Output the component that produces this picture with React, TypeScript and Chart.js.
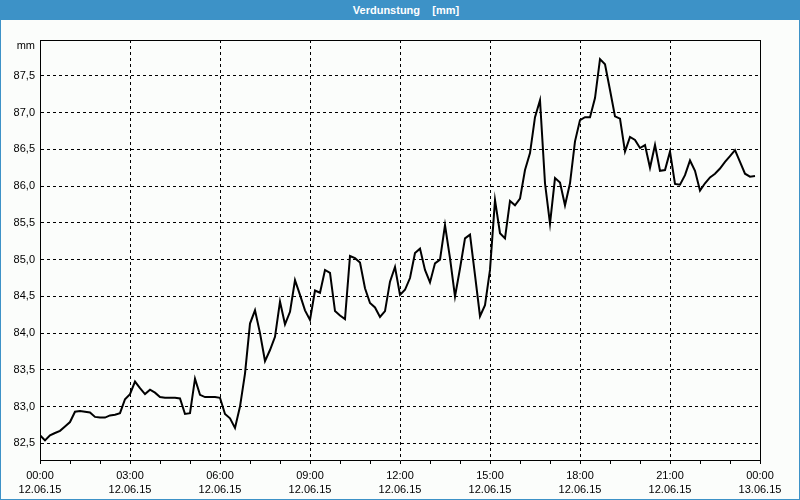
import React, { useEffect, useRef } from "react";
import { Chart, registerables } from "chart.js";

Chart.register(...registerables);

// Verdunstung values (mm), one sample every 10 minutes from 12.06.15 00:00
const values: number[] = [
  82.61, 82.54, 82.61, 82.64, 82.67, 82.73, 82.79, 82.93, 82.94, 82.93,
  82.92, 82.86, 82.85, 82.85, 82.88, 82.89, 82.91, 83.10, 83.17, 83.34,
  83.25, 83.17, 83.23, 83.19, 83.13, 83.12, 83.12, 83.12, 83.11, 82.90,
  82.91, 83.38, 83.16, 83.13, 83.13, 83.13, 83.12, 82.90, 82.84, 82.71,
  83.00, 83.45, 84.13, 84.31, 84.00, 83.62, 83.77, 83.95, 84.43, 84.12,
  84.29, 84.72, 84.52, 84.31, 84.18, 84.58, 84.55, 84.86, 84.82, 84.30,
  84.24, 84.19, 85.05, 85.02, 84.96, 84.61, 84.41, 84.35, 84.22, 84.30,
  84.70, 84.90, 84.52, 84.59, 84.75, 85.09, 85.15, 84.86, 84.69, 84.95,
  85.00, 85.47, 85.02, 84.50, 84.88, 85.29, 85.34, 84.79, 84.23, 84.38,
  84.86, 85.81, 85.36, 85.29, 85.80, 85.74, 85.83, 86.22, 86.45, 86.94,
  87.17, 86.04, 85.49, 86.11, 86.05, 85.74, 86.04, 86.61, 86.90, 86.94,
  86.94, 87.20, 87.73, 87.66, 87.31, 86.95, 86.92, 86.47, 86.67, 86.63,
  86.52, 86.56, 86.25, 86.56, 86.21, 86.22, 86.47, 86.03, 86.02, 86.15,
  86.35, 86.21, 85.94, 86.04, 86.12, 86.17, 86.24, 86.33, 86.41, 86.49,
  86.33, 86.17, 86.13, 86.14,
];
const sampleStepMinutes = 10;

const yTicks: number[] = [82.5, 83.0, 83.5, 84.0, 84.5, 85.0, 85.5, 86.0, 86.5, 87.0, 87.5];
const yMin = 82.273;
const yMax = 87.99;
const yUnit = "mm";

const xTickMinutes: number[] = [
  0, 60, 120, 180, 240, 300, 360, 420, 480, 540, 600, 660, 720,
  780, 840, 900, 960, 1020, 1080, 1140, 1200, 1260, 1320, 1380, 1440,
];
const xMajorStep = 180;
const xLabelTimes: string[] = ["00:00", "03:00", "06:00", "09:00", "12:00", "15:00", "18:00", "21:00", "00:00"];
const xLabelDates: string[] = ["12.06.15", "12.06.15", "12.06.15", "12.06.15", "12.06.15", "12.06.15", "12.06.15", "12.06.15", "13.06.15"];

const title = "Verdunstung    [mm]";

export default function App() {
  const canvasRef = useRef<HTMLCanvasElement | null>(null);

  useEffect(() => {
    const canvas = canvasRef.current;
    if (!canvas) return;
    Chart.defaults.font.family = "'Liberation Sans', Arial, sans-serif";
    Chart.defaults.font.size = 11;
    Chart.defaults.color = "#000";

    const frame = {
      id: "frame",
      afterDraw(chart: any) {
        const { ctx, chartArea } = chart;
        ctx.save();
        ctx.strokeStyle = "#000";
        ctx.lineWidth = 1;
        ctx.beginPath();
        ctx.moveTo(Math.round(chartArea.left) + 0.5, Math.round(chartArea.top) + 0.5);
        ctx.lineTo(Math.round(chartArea.right) + 0.5, Math.round(chartArea.top) + 0.5);
        ctx.lineTo(Math.round(chartArea.right) + 0.5, Math.round(chartArea.bottom) + 0.5);
        ctx.stroke();
        ctx.font = "11px 'Liberation Sans', Arial, sans-serif";
        ctx.fillStyle = "#000";
        ctx.textAlign = "right";
        ctx.textBaseline = "middle";
        ctx.fillText(yUnit, chartArea.left - 5, chartArea.top + 6);
        ctx.restore();
      },
    };

    const chart = new Chart(canvas, {
      type: "line",
      data: {
        datasets: [
          {
            data: values.map((v, i) => ({ x: i * sampleStepMinutes, y: v })),
            borderColor: "#000",
            borderWidth: 2,
            pointRadius: 0,
            tension: 0,
            fill: false,
          },
        ],
      },
      options: {
        responsive: false,
        animation: false,
        events: [],
        layout: { padding: { top: 40, right: 40, bottom: 0, left: 0 } },
        plugins: { legend: { display: false }, title: { display: false }, tooltip: { enabled: false } },
        scales: {
          x: {
            type: "linear",
            min: 0,
            max: 1440,
            afterBuildTicks: (scale: any) => {
              scale.ticks = xTickMinutes.map((v) => ({ value: v }));
            },
            afterFit: (scale: any) => {
              scale.height = 40;
            },
            grid: {
              color: (ctx: any) =>
                ctx.tick && ctx.tick.value % xMajorStep === 0 ? "#000" : "rgba(0,0,0,0)",
              tickColor: "#000",
              tickLength: 4,
              lineWidth: 1,
            },
            border: { color: "#000", dash: [3, 3], width: 1 },
            ticks: {
              autoSkip: false,
              maxRotation: 0,
              padding: 4,
              font: { size: 11, lineHeight: 1.36 },
              color: "#000",
              callback: (value: any) => {
                const v = Number(value);
                if (v % xMajorStep !== 0) return "";
                const i = v / xMajorStep;
                return [xLabelTimes[i], xLabelDates[i]];
              },
            },
          },
          y: {
            min: yMin,
            max: yMax,
            afterBuildTicks: (scale: any) => {
              scale.ticks = yTicks.map((v) => ({ value: v }));
            },
            afterFit: (scale: any) => {
              scale.width = 40;
            },
            grid: { color: "#000", drawTicks: false, lineWidth: 1 },
            border: { color: "#000", dash: [3, 3], width: 1 },
            ticks: {
              padding: 5,
              color: "#000",
              font: { size: 11 },
              callback: (value: any) => Number(value).toFixed(1).replace(".", ","),
            },
          },
        },
      },
      plugins: [frame],
    } as any);

    return () => chart.destroy();
  }, []);

  return (
    <div style={{ position: "fixed", left: 0, top: 0, width: 800, height: 500, background: "#fbfdfb", overflow: "hidden" }}>
      <canvas ref={canvasRef} width={800} height={500} style={{ position: "absolute", left: 0, top: 0, display: "block" }} />
      <div
        style={{
          position: "absolute",
          left: 0,
          top: 0,
          width: 800,
          height: 20,
          background: "#3d92c7",
          color: "#fff",
          fontFamily: "'Liberation Sans', Arial, sans-serif",
          fontWeight: "bold",
          fontSize: 11,
          lineHeight: "20px",
          textAlign: "center",
          whiteSpace: "pre",
          paddingLeft: 12,
          boxSizing: "border-box",
        }}
      >
        {title}
      </div>
      <div
        style={{
          position: "absolute",
          left: 0,
          top: 0,
          width: 800,
          height: 500,
          boxSizing: "border-box",
          border: "1px solid #3d92c7",
          pointerEvents: "none",
        }}
      />
    </div>
  );
}
